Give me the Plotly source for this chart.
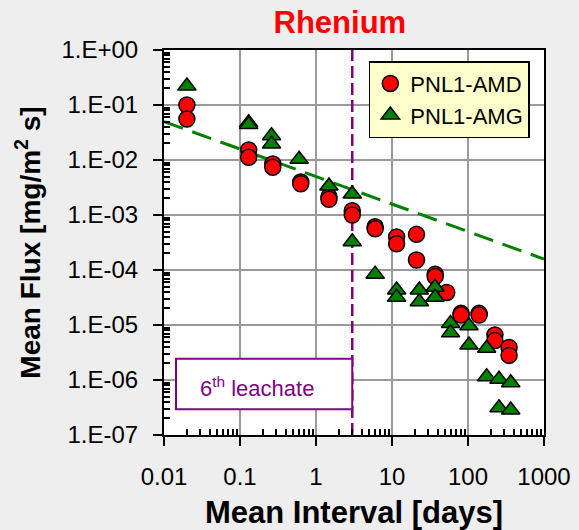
import plotly.graph_objects as go

# PNL1-AMD: mean interval (days) and mean flux (mg/m2 s)
amd_days = [0.02, 0.02, 0.13, 0.13, 0.27, 0.27, 0.63, 0.63, 1.48, 1.48,
            3.0, 3.0, 6.0, 6.0, 11.5, 11.5, 21, 21, 37, 37, 52.5,
            81, 81, 140, 140, 226, 226, 347, 347]
amd_flux = [0.100, 0.0556, 0.0152, 0.0112, 0.0085, 0.0074, 0.0040, 0.0037,
            0.00215, 0.00193, 0.00120, 0.00100, 0.00061, 0.00056,
            0.00040, 0.00030, 0.000445, 0.000152, 8.4e-5, 7.6e-5, 3.9e-5,
            1.63e-5, 1.52e-5, 1.63e-5, 1.52e-5, 6.6e-6, 5.2e-6, 3.9e-6, 2.8e-6]

# PNL1-AMG
amg_days = [0.02, 0.13, 0.13, 0.26, 0.26, 0.6, 1.48, 3.0, 3.0, 6.0,
            11.5, 11.5, 22.9, 22.9, 36.8, 36.8, 59, 59, 103, 103,
            176, 176, 256, 256, 365, 365]
amg_flux = [0.221, 0.0477, 0.044, 0.0277, 0.0195, 0.0103, 0.00337,
            0.00241, 0.000327, 8.4e-5, 4.33e-5, 3.19e-5, 4.33e-5, 2.65e-5,
            4.85e-5, 3.19e-5, 1.07e-5, 7.2e-6, 9.7e-6, 4.33e-6,
            3.77e-6, 1.15e-6, 1.03e-6, 3.13e-7, 8.9e-7, 2.85e-7]

# Dashed trend line (end points)
trend_days = [0.01, 1000]
trend_flux = [0.05, 1.58e-4]

# Start of the 6th leachate
leachate_day = [3, 3]
leachate_span = [1e-7, 1]

x_tickvals = [0.01, 0.1, 1, 10, 100, 1000]
x_ticktext = ["0.01", "0.1", "1", "10", "100", "1000"]
y_tickvals = [1, 1e-1, 1e-2, 1e-3, 1e-4, 1e-5, 1e-6, 1e-7]
y_ticktext = ["1.E+00", "1.E-01", "1.E-02", "1.E-03", "1.E-04",
              "1.E-05", "1.E-06", "1.E-07"]

x_minor = [m * 10 ** e for e in range(-2, 3) for m in range(2, 10)]
y_minor = [m * 10 ** e for e in range(-7, 0) for m in range(2, 10)]

FONT = "Liberation Sans, Arial, sans-serif"

fig = go.Figure()

fig.add_trace(go.Scatter(
    x=trend_days, y=trend_flux, mode="lines", showlegend=False,
    line=dict(color="#008000", width=3, dash="20px,10px"), hoverinfo="skip"))

fig.add_trace(go.Scatter(
    x=leachate_day, y=leachate_span, mode="lines", showlegend=False,
    line=dict(color="#800080", width=2.5, dash="12px,5px"), hoverinfo="skip"))

fig.add_trace(go.Scatter(
    x=amd_days, y=amd_flux, mode="markers", name="PNL1-AMD",
    marker=dict(symbol="circle", size=16, color="#FF0000",
                line=dict(color="black", width=1.5))))

fig.add_trace(go.Scatter(
    x=amg_days, y=amg_flux, mode="markers", name="PNL1-AMG",
    marker=dict(symbol="triangle-up", size=16, color="#008000",
                line=dict(color="black", width=1.5))))

# "6th leachate" label box
fig.add_shape(type="rect", xref="paper", yref="paper",
              x0=0.0316, x1=0.4954, y0=0.067, y1=0.198,
              line=dict(color="#800080", width=2), fillcolor="white",
              layer="above")
fig.add_annotation(xref="paper", yref="paper", x=0.244, y=0.1255,
                   text="6<sup>th</sup> leachate", showarrow=False,
                   font=dict(family=FONT, size=22, color="#800080"),
                   xanchor="center", yanchor="middle")

fig.update_layout(
    width=579, height=530,
    margin=dict(l=164, r=35, t=50, b=95),
    paper_bgcolor="#eeeeee",
    plot_bgcolor="white",
    font=dict(family=FONT, color="black"),
    title=dict(text="<b>Rhenium</b>", font=dict(family=FONT, size=31, color="#FF0000"),
               xref="container", yref="container", x=0.587, y=0.958,
               xanchor="center", yanchor="middle"),
    legend=dict(x=0.539, y=0.971, xanchor="left", yanchor="top",
                bgcolor="#FFFFCC", bordercolor="black", borderwidth=1.5,
                font=dict(family=FONT, size=22, color="black")),
    xaxis=dict(
        type="log", range=[-2, 3], automargin=False,
        tickmode="array", tickvals=x_tickvals, ticktext=x_ticktext,
        tickfont=dict(family=FONT, size=24),
        ticks="outside", ticklen=9, tickwidth=2, tickcolor="black",
        ticklabelstandoff=10,
        showline=True, linecolor="black", linewidth=2, mirror=True,
        showgrid=True, gridcolor="#9a9a9a", gridwidth=1.5,
        minor=dict(tickmode="array", tickvals=x_minor, ticks="inside",
                   ticklen=6, tickwidth=1.5, tickcolor="black", showgrid=False),
        zeroline=False,
        title=dict(text="<b>Mean Interval [days]</b>",
                   font=dict(family=FONT, size=31), standoff=16),
    ),
    yaxis=dict(
        type="log", range=[-7, 0], automargin=False,
        tickmode="array", tickvals=y_tickvals, ticktext=y_ticktext,
        tickfont=dict(family=FONT, size=24),
        ticks="outside", ticklen=9, tickwidth=2, tickcolor="black",
        ticklabelstandoff=10,
        showline=True, linecolor="black", linewidth=2, mirror=True,
        showgrid=True, gridcolor="#9a9a9a", gridwidth=1.5,
        minor=dict(tickmode="array", tickvals=y_minor, ticks="inside",
                   ticklen=6, tickwidth=1.5, tickcolor="black", showgrid=False),
        zeroline=False,
        title=dict(text="<b>Mean Flux [mg/m<sup>2</sup> s]</b>",
                   font=dict(family=FONT, size=28), standoff=13),
    ),
)

fig.write_html("out.html")
